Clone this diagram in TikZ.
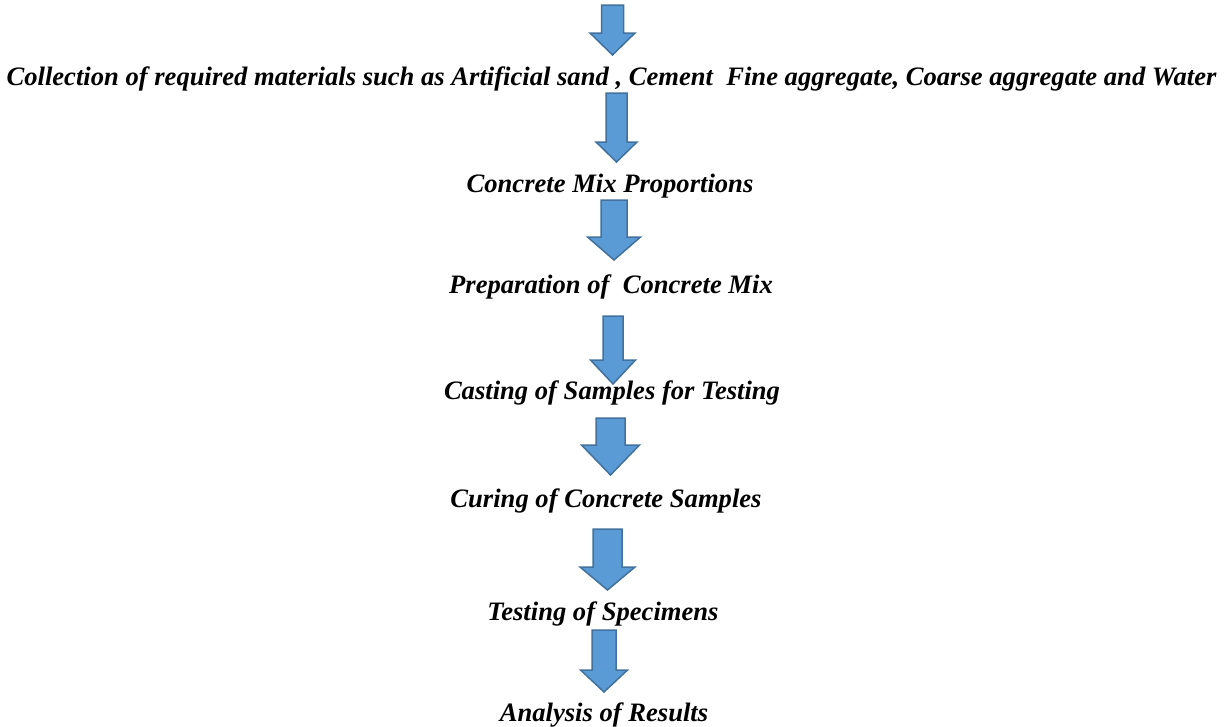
\documentclass[tikz,border=0pt]{standalone}
\usepackage{fontspec}
\setmainfont{Liberation Serif}
\usepackage{tikz}
\usetikzlibrary{calc,positioning}

\definecolor{arrowfill}{HTML}{5B9BD5}
\definecolor{arrowline}{HTML}{41719C}

% block arrow: centre x, top y, head start y, tip y, half shaft, half head
\newcommand{\blockarrow}[6]{%
  \filldraw[blockarr] (#1-#5,#2) -- (#1+#5,#2) -- (#1+#5,#3) -- (#1+#6,#3)
    -- (#1,#4) -- (#1-#6,#3) -- (#1-#5,#3) -- cycle;}

\tikzset{
  blockarr/.style={fill=arrowfill, draw=arrowline, line width=1.5pt, line join=miter},
  steptext/.style={anchor=base, inner sep=0pt, font=\fontsize{26.6}{31}\selectfont\bfseries\itshape}
}

\begin{document}
\begin{tikzpicture}[x=1pt,y=-1pt]
    \useasboundingbox (0,0) rectangle (1225,726);

    \node[steptext] (coll) at (611.5,85) {Collection of required materials such as Artificial sand , Cement\ \ Fine aggregate, Coarse aggregate and Water};
    \node[steptext] (mixp) at (610,192) {Concrete Mix Proportions};
    \node[steptext] (prep) at (611,293) {Preparation of\ \ Concrete Mix};
    \node[steptext] (cast) at (612,399) {Casting of Samples for Testing};
    \node[steptext] (cure) at (606,507) {Curing of Concrete Samples};
    \node[steptext] (test) at (603,620) {Testing of Specimens};
    \node[steptext] (anal) at (604,721) {Analysis of Results};

    \blockarrow{612.5}{5}{33}{55}{11}{22.5}
    \blockarrow{616.5}{93}{142}{162}{10.5}{20.5}
    \blockarrow{614}{200}{237}{260}{13}{26.5}
    \blockarrow{613}{316}{360}{384}{10}{22.5}
    \blockarrow{610.5}{418}{445}{475}{14.5}{29}
    \blockarrow{607.5}{529}{567}{590}{14.5}{27.5}
    \blockarrow{604}{630}{670}{692}{12}{23.5}

\end{tikzpicture}
\end{document}
